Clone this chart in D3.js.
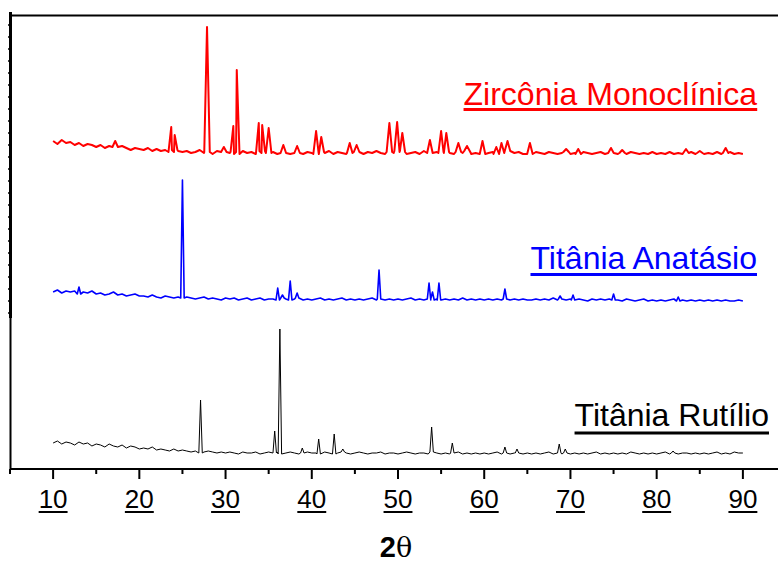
<!DOCTYPE html>
<html>
<head>
<meta charset="utf-8">
<script src="https://cdn.jsdelivr.net/npm/d3@7"></script>
<style>
  body { margin: 0; background: #fff; }
  svg { display: block; }
  text { font-family: "Liberation Sans", Arial, sans-serif; }
</style>
</head>
<body>
<div id="chart"></div>
<script>
var w = 778, h = 563;

// 2theta grid of the baseline samples (every 0.5 deg)
var twoTheta = d3.range(10, 90.001, 0.5);

// baseline counts (a.u.), one value per grid point
var rutBase = [25,27,24,26,25,23,26,24,25,22,24,
  23,21,24,22,21,23,20,22,21,19, 20,19,21,18,19,18,17,19,17,18,
  17,16,17,15,16,17,16,15,16,15, 16,15,14,16,15,15,16,14,15,16,
  15,16,14,15,16,15,14,15,16,15, 15,14,16,15,14,15,16,15,14,15,
  16,15,14,15,15,16,14,15,15,14, 15,16,15,14,15,15,14,16,15,14,
  15,14,15,16,14,15,14,15,14,15, 14,15,16,14,15,14,15,15,14,15,
  14,15,14,15,16,14,15,14,15,14, 15,14,15,14,15,16,14,15,14,15,
  14,15,14,16,15,14,15,14,15,14, 15,16,14,15,14,15,15,14,15,14,
  15,14,15,16,14,15,14,16,15,15];
var anaBase = [21,23,20,22,21,22,19,21,20,22,19,
  20,18,19,21,18,19,17,18,19,17, 17,16,18,16,15,17,16,15,16,15,
  16,15,14,15,16,14,15,14,13,15, 14,15,13,14,15,13,14,15,13,14,
  14,13,15,14,13,14,15,13,14,13, 14,15,13,14,13,14,15,13,14,13,
  14,13,14,15,13,14,13,14,13,14, 13,14,15,13,14,13,14,13,14,13,
  14,13,14,13,15,13,14,13,14,13, 14,13,14,13,14,13,14,13,14,13,
  13,14,13,14,13,15,13,14,13,14, 13,14,13,12,14,13,14,13,14,13,
  13,12,14,13,12,13,14,12,13,12, 13,12,13,14,12,13,12,13,12,13,
  12,13,12,13,12,13,12,12,13,12];
var zirBase = [27,24,28,25,26,23,25,22,24,23,21,
  23,20,22,21,19,22,20,18,20,19, 18,20,17,19,17,18,16,18,17,16,
  17,15,16,18,15,16,14,17,15,16, 15,16,14,17,15,16,14,15,17,15,
  16,14,15,17,14,16,15,14,16,15, 14,16,15,17,14,16,15,14,15,16,
  15,14,16,15,17,15,14,16,15,17, 16,14,15,16,14,17,15,14,16,15,
  16,15,14,16,15,17,14,15,16,14, 15,16,14,15,17,14,15,16,14,15,
  14,16,15,14,16,15,14,15,16,14, 15,14,16,15,14,15,16,14,15,14,
  14,15,14,16,15,14,15,14,16,14, 15,14,16,14,15,14,15,16,14,15,
  14,15,14,16,14,15,16,14,15,14];

// peak positions [2theta, apex counts]
var rutPeaks = [[27.1,68],[35.7,37],[36.3,139],[38.9,20],[40.8,29],[42.6,34],[43.6,19],
  [53.9,41],[56.3,25],[62.4,21],[63.8,19],[68.7,24],[69.4,19],[81.9,17]];
var anaPeaks = [[13.0,26],[25.0,133],[36.05,25],[36.6,18],[37.5,32],[38.3,20],[47.8,43],
  [53.6,30],[54.0,21],[54.75,30],[62.4,24],[68.8,17],[70.3,18],[75.0,19],[82.5,16]];
var zirPeaks = [[17.2,27],[23.7,41],[24.1,33],[27.85,141],[29.8,21],[30.9,42],[31.3,98],
  [33.85,45],[34.25,43],[35.0,40],[36.7,23],[38.3,22],[40.5,37],[41.1,31],[44.4,25],[45.2,23],
  [49.0,45],[49.9,46],[50.5,35],[53.7,28],[55.0,37],[55.6,35],[57.0,25],[58.0,22],[59.8,27],
  [61.4,21],[62.0,25],[62.7,27],[65.3,25],[69.5,19],[70.9,19],[74.7,20],[76.0,18],[83.4,19],
  [85.0,17],[88.0,20]];

var seriesNames = ["Titânia Rutílio", "Titânia Anatásio", "Zircônia Monoclínica"];
var seriesColors = ["#000000", "#0000ff", "#ff0000"];
var offsets = [0, 155, 300];
var halfWidths = [0.2, 0.2, 0.32];
var xTicks = [10, 20, 30, 40, 50, 60, 70, 80, 90];
var xMinor = [5, 15, 25, 35, 45, 55, 65, 75, 85];

var svg = d3.select("#chart").append("svg").attr("width", w).attr("height", h);

var x = d3.scaleLinear().domain([5, 95]).range([10, 786]);
var y = d3.scaleLinear().domain([0, 455]).range([468, 13]);

// merge baseline samples with the peak triangles
function buildTrace(base, peaks, hw) {
  var pts = twoTheta.map((t, i) => [t, base[i]])
    .filter(p => !peaks.some(k => Math.abs(p[0] - k[0]) <= hw));
  peaks.forEach(k => {
    var b = base[Math.round((k[0] - 10) / 0.5)];
    pts.push([k[0] - hw, b], [k[0], k[1]], [k[0] + hw, b]);
  });
  return pts.sort((a, b) => a[0] - b[0]);
}

var traces = [
  buildTrace(rutBase, rutPeaks, halfWidths[0]),
  buildTrace(anaBase, anaPeaks, halfWidths[1]),
  buildTrace(zirBase, zirPeaks, halfWidths[2])
];
var widths = [1, 1.6, 2];

traces.forEach((tr, i) => {
  var line = d3.line().x(d => x(d[0])).y(d => y(d[1] + offsets[i]));
  svg.append("path").datum(tr)
    .attr("d", line)
    .attr("fill", "none")
    .attr("stroke", seriesColors[i])
    .attr("stroke-width", widths[i])
    .attr("stroke-linejoin", "round");
});

// frame: top line and left axis
svg.append("line").attr("x1", 10).attr("x2", w).attr("y1", 15.5).attr("y2", 15.5)
  .attr("stroke", "#000").attr("stroke-width", 2);
svg.append("line").attr("x1", 10.5).attr("x2", 10.5).attr("y1", 12).attr("y2", 469)
  .attr("stroke", "#000").attr("stroke-width", 2);
svg.append("line").attr("x1", 10.5).attr("x2", 10.5).attr("y1", 12).attr("y2", 318)
  .attr("stroke", "#000").attr("stroke-width", 3);
var yMinor = d3.range(25, 318, 12);
svg.selectAll("line.ymin").data(yMinor).enter().append("line")
  .attr("class", "ymin")
  .attr("x1", 8).attr("x2", 10).attr("y1", d => d).attr("y2", d => d)
  .attr("stroke", "#000").attr("stroke-width", 1.5);

// x axis
var xAxis = svg.append("g").attr("transform", "translate(0,469)");
xAxis.append("line").attr("x1", 10).attr("x2", w).attr("y1", 0).attr("y2", 0)
  .attr("stroke", "#000").attr("stroke-width", 2);
xAxis.selectAll("line.maj").data(xTicks).enter().append("line")
  .attr("class", "maj")
  .attr("x1", d => x(d)).attr("x2", d => x(d)).attr("y1", 0).attr("y2", 10)
  .attr("stroke", "#000").attr("stroke-width", 2);
xAxis.selectAll("line.min").data(xMinor).enter().append("line")
  .attr("class", "min")
  .attr("x1", d => x(d)).attr("x2", d => x(d)).attr("y1", 0).attr("y2", 5)
  .attr("stroke", "#000").attr("stroke-width", 2);
xAxis.selectAll("text").data(xTicks).enter().append("text")
  .attr("x", d => x(d)).attr("y", 39)
  .attr("text-anchor", "middle")
  .attr("font-size", "26px")
  .attr("fill", "#000")
  .text(d => d)
  .each(function () {
    var bb = this.getBBox();
    xAxis.append("line")
      .attr("x1", bb.x).attr("x2", bb.x + bb.width)
      .attr("y1", 43).attr("y2", 43)
      .attr("stroke", "#000").attr("stroke-width", 2);
  });

// axis title
var title = svg.append("text").attr("x", 396).attr("y", 557)
  .attr("text-anchor", "middle").attr("font-size", "29px").attr("fill", "#000");
title.append("tspan").attr("font-weight", "bold").text("2");
title.append("tspan").attr("font-family", "'DejaVu Serif', serif").attr("font-size", "27px").text("θ");

// series labels
var labelY = [426, 269, 105];
var labelRight = [769, 757, 757];
var underY = [433, 274.5, 109.5];
seriesNames.forEach((name, i) => {
  var t = svg.append("text")
    .attr("x", labelRight[i]).attr("y", labelY[i])
    .attr("text-anchor", "end")
    .attr("font-size", "32px")
    .attr("fill", seriesColors[i])
    .text(name);
  var bb = t.node().getBBox();
  svg.append("line")
    .attr("x1", bb.x).attr("x2", bb.x + bb.width)
    .attr("y1", underY[i]).attr("y2", underY[i])
    .attr("stroke", seriesColors[i]).attr("stroke-width", 3);
});
</script>
</body>
</html>
